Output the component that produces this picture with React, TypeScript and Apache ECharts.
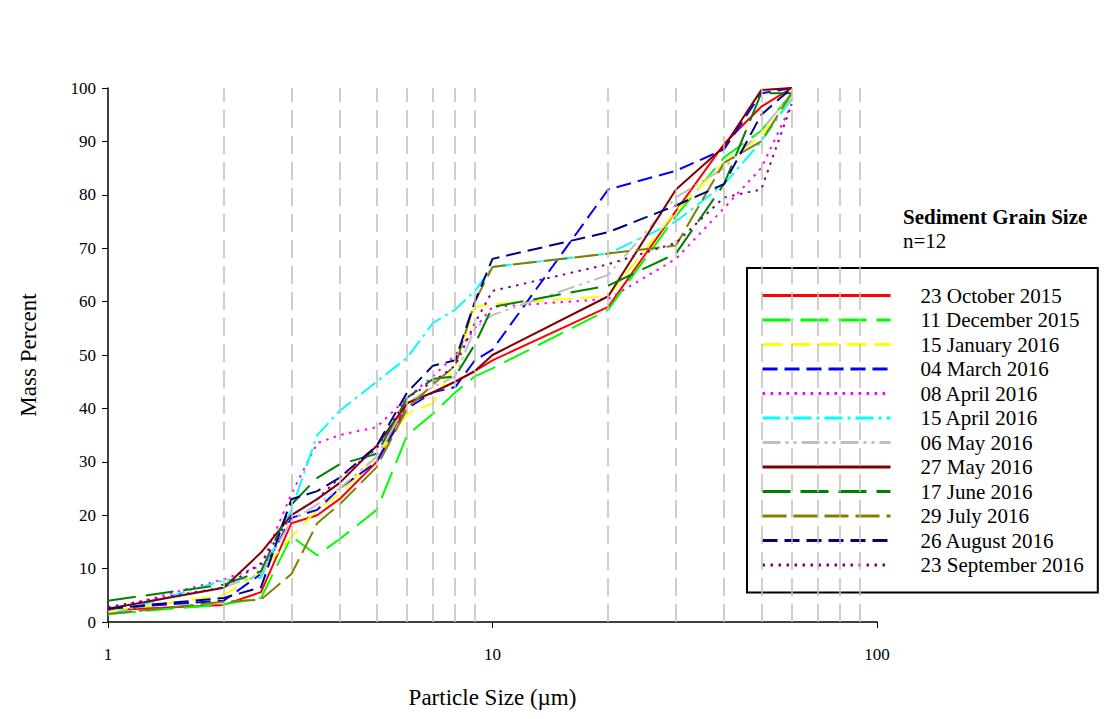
import React, { useEffect, useRef } from "react";
import * as echarts from "echarts";

const FONT = "'Liberation Serif', 'Times New Roman', serif";

const sizes = [1, 2, 2.5, 3, 3.5, 4, 5, 6, 7, 8, 9, 10, 20, 30, 40, 50, 60];
const gridSizes = [2, 3, 4, 5, 6, 7, 8, 9, 20, 30, 40, 50, 60, 70, 80, 90];

const oct2015 = [2.2, 3.2, 5.6, 18.5, 20, 23, 30, 41, 43, 45, 47, 49, 59, 77, 89.5, 96.5, 100];
const dec2015 = [1.5, 3.3, 4.5, 16, 12.5, 15.5, 21, 35, 39, 43, 46, 47.5, 58.5, 76, 87, 92, 99];
const jan2016 = [2, 5, 9.4, 16, 21, 24, 31, 39, 41, 48, 59, 59.5, 61, 77, 86, 91, 98];
const mar2016 = [2.5, 4, 9, 19.5, 21, 25, 30, 40, 43, 44, 49, 51, 81, 84.5, 88.5, 99, 100];
const apr08_2016 = [2.2, 8, 10.5, 24, 33.5, 35, 36.5, 42, 46, 50, 55, 59, 60.5, 68, 77.5, 85, 97];
const apr15_2016 = [1.3, 7.8, 8.3, 21, 35, 39.5, 45, 49.5, 56, 58.5, 62, 66.5, 69, 75, 82, 90, 98];
const may06_2016 = [2.5, 6.5, 9, 19, 22, 25, 31, 41, 44, 46, 55, 57.5, 65, 79.5, 85, 92, 99];
const may27_2016 = [2.5, 6.4, 13, 20, 23, 26, 33, 41, 43, 45, 47, 50, 61, 81, 89, 99.6, 100];
const jun2016 = [4, 7, 9.5, 22, 27, 29.5, 31.5, 42, 45.5, 46, 52, 59, 63, 69, 82, 99, 99];
const jul2016 = [1.5, 3.8, 4.2, 9, 18.5, 22, 29, 40, 44.5, 48, 60, 66.5, 69, 70.5, 86, 90, 99];
const aug2016 = [2.5, 4.5, 6.5, 23, 24.5, 27, 33, 43, 48, 49, 60, 68, 73, 78, 82, 95, 100];
const sep2016 = [2.8, 6.5, 11, 20, 23, 27, 32.5, 42, 45, 48, 56, 62, 67, 71, 79.5, 81, 97];

const seriesDefs = [
  { name: "23 October 2015", values: oct2015, color: "#ff0000", dash: "solid" as any },
  { name: "11 December 2015", values: dec2015, color: "#00ff00", dash: [28, 10] },
  { name: "15 January 2016", values: jan2016, color: "#ffff00", dash: [20, 8] },
  { name: "04 March 2016", values: mar2016, color: "#0000ff", dash: [15, 7] },
  { name: "08 April 2016", values: apr08_2016, color: "#ff00ff", dash: [2.5, 5.5] },
  { name: "15 April 2016", values: apr15_2016, color: "#00ffff", dash: [18, 5, 3, 5] },
  { name: "06 May 2016", values: may06_2016, color: "#c0c0c0", dash: [18, 5, 3, 5, 3, 5] },
  { name: "27 May 2016", values: may27_2016, color: "#800000", dash: "solid" as any },
  { name: "17 June 2016", values: jun2016, color: "#008000", dash: [28, 10] },
  { name: "29 July 2016", values: jul2016, color: "#808000", dash: [24, 7] },
  { name: "26 August 2016", values: aug2016, color: "#000080", dash: [15, 7] },
  { name: "23 September 2016", values: sep2016, color: "#800080", dash: [2.5, 5.5] },
];

export default function App() {
  const ref = useRef<HTMLDivElement>(null);
  useEffect(() => {
    if (!ref.current) return;
    const chart = echarts.init(ref.current, undefined, { renderer: "svg" });
    const series: any[] = [
      {
        name: "grid",
        type: "line",
        data: [],
        z: 1,
        silent: true,
        markLine: {
          silent: true,
          symbol: "none",
          label: { show: false },
          lineStyle: { color: "#bfbfbf", type: [18, 8], width: 1.5 },
          data: gridSizes.map((v) => ({ xAxis: v })),
        },
      },
      ...seriesDefs.map((s) => ({
        name: s.name,
        type: "line",
        z: 3,
        symbol: "none",
        showSymbol: false,
        data: sizes.map((x, i) => [x, s.values[i]]),
        lineStyle: { color: s.color, width: 2, type: s.dash },
        itemStyle: { color: s.color },
      })),
    ];
    chart.setOption({
      animation: false,
      backgroundColor: "#ffffff",
      title: {
        text: "Sediment Grain Size",
        subtext: "n=12",
        left: 903,
        top: 206,
        itemGap: 3,
        padding: 0,
        textStyle: { fontFamily: FONT, fontSize: 21, lineHeight: 21, fontWeight: "bold", color: "#000" },
        subtextStyle: { fontFamily: FONT, fontSize: 21, lineHeight: 21, color: "#000" },
      },
      legend: {
        data: seriesDefs.map((s) => s.name),
        orient: "vertical",
        left: 747,
        top: 268,
        padding: [17, 14, 17, 14],
        itemWidth: 128,
        itemHeight: 14,
        itemGap: 3.5,
        selectedMode: false,
        backgroundColor: "#ffffff",
        borderColor: "#000000",
        borderWidth: 2,
        itemStyle: { opacity: 0 },
        lineStyle: { width: 3 },
        textStyle: { fontFamily: FONT, fontSize: 21, lineHeight: 21, color: "#000", padding: [0, 0, 0, 25] },
      },
      grid: { left: 108, top: 88, right: 228, bottom: 97 },
      xAxis: {
        type: "log",
        logBase: 10,
        min: 1,
        max: 100,
        name: "Particle Size (\u00b5m)",
        nameLocation: "middle",
        nameGap: 64,
        nameTextStyle: { fontFamily: FONT, fontSize: 23, color: "#000" },
        axisLine: { lineStyle: { color: "#000", width: 1.5 } },
        axisTick: { show: true, length: 6, lineStyle: { color: "#000" } },
        axisLabel: { fontFamily: FONT, fontSize: 17, color: "#000", margin: 24 },
        splitLine: { show: false },
      },
      yAxis: {
        type: "value",
        min: 0,
        max: 100,
        interval: 10,
        name: "Mass Percent",
        nameLocation: "middle",
        nameGap: 68,
        nameTextStyle: { fontFamily: FONT, fontSize: 23, color: "#000" },
        axisLine: { show: true, lineStyle: { color: "#000", width: 1.5 } },
        axisTick: { show: true, length: 6, lineStyle: { color: "#000" } },
        axisLabel: { fontFamily: FONT, fontSize: 17, color: "#000", margin: 12 },
        splitLine: { show: false },
      },
      series,
    });
    return () => chart.dispose();
  }, []);
  return (
    <div
      ref={ref}
      style={{ position: "absolute", left: 0, top: 0, width: 1105, height: 719, background: "#fff" }}
    />
  );
}
